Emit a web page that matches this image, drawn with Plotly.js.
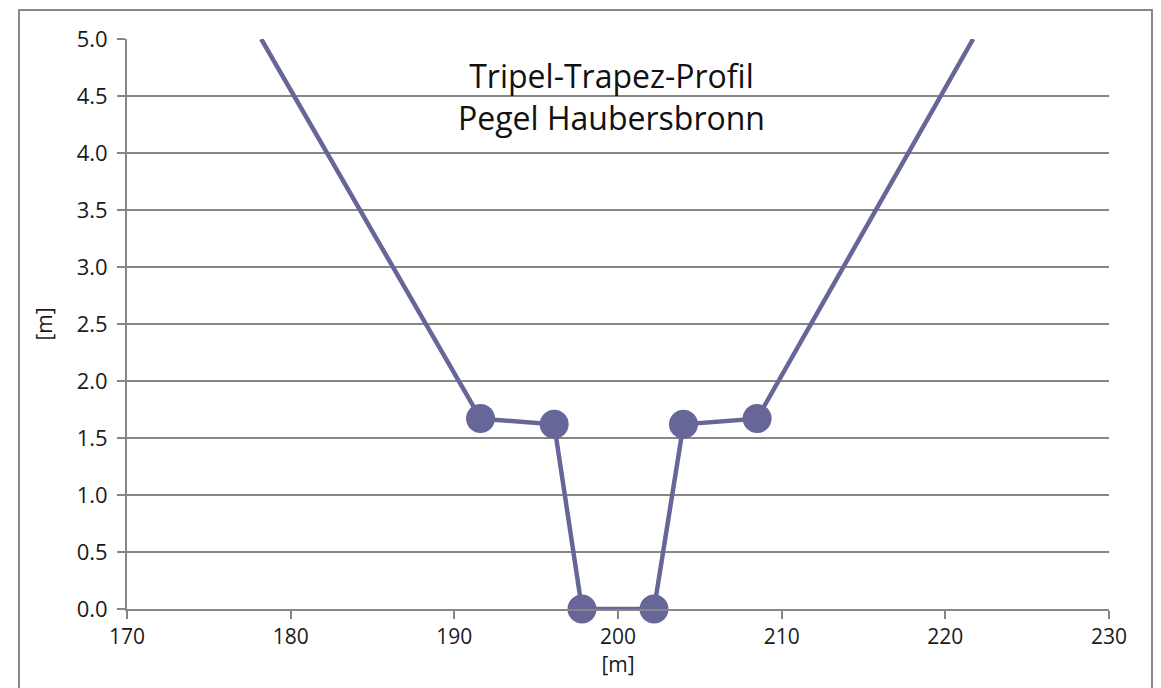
<!DOCTYPE html>
<html>
<head>
<meta charset="utf-8">
<script src="https://cdn.plot.ly/plotly-3.0.1.min.js"></script>
<style>html,body{margin:0;padding:0;background:#fff;}#chart{width:1161px;height:688px;}</style>
</head>
<body>
<div id="chart"></div>
<script>
// Profile points: station [m] and height [m]
const stationX = [178.2, 191.6, 196.1, 197.8, 202.2, 204.0, 208.5, 221.7];
const heightY  = [5.0,   1.67,  1.62,  0.0,   0.0,   1.62,  1.67,  5.0];
const showMarker = [false, true, true, true, true, true, true, false];
const xTicks = [170, 180, 190, 200, 210, 220, 230];
const yTicks = [0.0, 0.5, 1.0, 1.5, 2.0, 2.5, 3.0, 3.5, 4.0, 4.5, 5.0];
const titleLines = ["Tripel-Trapez-Profil", "Pegel Haubersbronn"];

const col = '#666699';
const grid = '#868686';
const font = 'Open Sans, Noto Sans, sans-serif';
const txt = '#1a1a1a';

const trace = {
  x: stationX, y: heightY, type: 'scatter', mode: 'lines+markers',
  line: {color: col, width: 4.5},
  marker: {color: col, opacity: 1, size: showMarker.map(s => s ? 29 : 0), line: {width: 0}},
  cliponaxis: false, hoverinfo: 'x+y'
};

const layout = {
  width: 1161, height: 688,
  margin: {l: 127, r: 52, t: 39, b: 79},
  paper_bgcolor: '#fff', plot_bgcolor: '#fff',
  showlegend: false,
  font: {family: font, color: txt, size: 20},
  xaxis: {
    range: [170, 230], tickvals: xTicks, ticktext: xTicks.map(String),
    showgrid: false, zeroline: false, showline: true, linecolor: grid, linewidth: 2,
    ticks: 'outside', ticklen: 8, tickwidth: 2, tickcolor: grid,
    tickfont: {family: font, size: 21, color: txt},
    title: {text: '[m]', font: {family: font, size: 21, color: txt}, standoff: 0}
  },
  yaxis: {
    range: [0, 5], tickvals: yTicks, ticktext: yTicks.map(v => v.toFixed(1)),
    showgrid: true, gridcolor: grid, gridwidth: 2, zeroline: false,
    showline: true, linecolor: grid, linewidth: 2,
    ticks: 'outside', ticklen: 8, tickwidth: 2, tickcolor: grid,
    ticklabelstandoff: 5,
    tickfont: {family: font, size: 22, color: txt},
    title: {text: '[m]', font: {family: font, size: 21, color: txt}, standoff: 18}
  },
  annotations: [{
    xref: 'paper', yref: 'paper', x: 0.493, y: 1 - 13/570, xanchor: 'center', yanchor: 'top',
    text: titleLines.join('<br>'), showarrow: false,
    font: {family: font, size: 32, color: '#111'}
  }],
  shapes: [{
    type: 'rect', xref: 'paper', yref: 'paper',
    x0: -108/982, x1: 1 + 43/982, y0: -100/570, y1: 1 + 29/570,
    line: {color: '#888', width: 2}, fillcolor: 'rgba(0,0,0,0)', layer: 'below'
  }]
};

Plotly.newPlot('chart', [trace], layout, {displayModeBar: false, staticPlot: true});
</script>
</body>
</html>
